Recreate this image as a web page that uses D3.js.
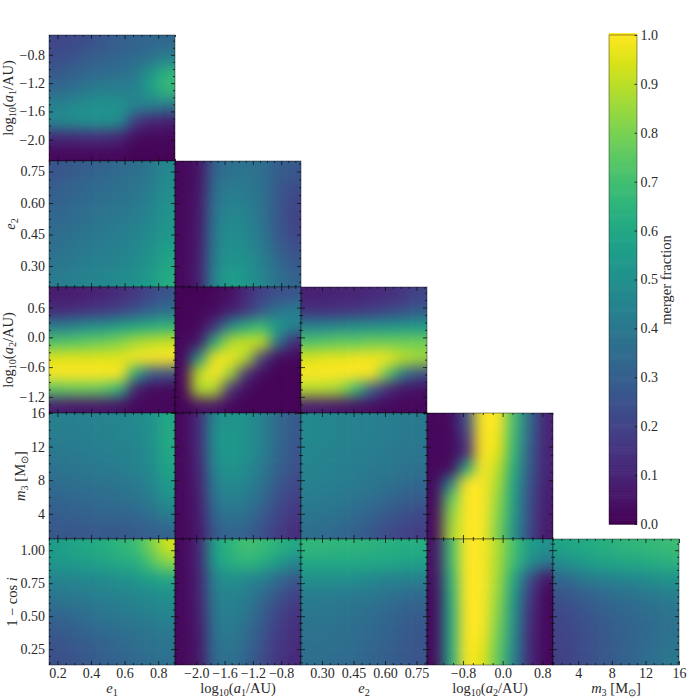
<!DOCTYPE html>
<html><head><meta charset="utf-8">
<script src="https://cdn.jsdelivr.net/npm/d3@7"></script>
<style>html,body{margin:0;padding:0;background:#fff}svg{display:block}
text{font-family:"Liberation Serif",serif;fill:#2a2a2a}</style></head>
<body><svg id="c" width="700" height="700"></svg>
<script>
// Merger fraction grids, top row first, left column first.
const a1_e1=[[.21,.22,.24,.27,.30,.31,.33,.33],[.24,.26,.29,.31,.33,.35,.38,.45],[.28,.31,.34,.35,.37,.40,.55,.66],[.34,.37,.41,.43,.43,.44,.56,.67],[.44,.47,.50,.51,.51,.44,.42,.40],[.47,.49,.51,.51,.49,.17,.10,.08],[.12,.12,.13,.13,.10,.03,.02,.02],[.02,.02,.02,.02,.02,.01,.01,.01]];
const e2_e1=[[.26,.28,.30,.32,.34,.36,.40,.47],[.29,.31,.33,.35,.36,.38,.42,.49],[.31,.33,.35,.37,.38,.40,.44,.50],[.33,.35,.37,.39,.40,.42,.46,.52],[.35,.37,.39,.41,.42,.44,.48,.53],[.37,.39,.41,.42,.44,.46,.50,.56],[.39,.41,.43,.44,.46,.48,.52,.59],[.42,.43,.45,.46,.48,.50,.55,.62]];
const e2_a1=[[.02,.05,.32,.37,.38,.36,.30,.27],[.02,.05,.35,.41,.40,.37,.28,.24],[.02,.06,.37,.44,.42,.38,.27,.21],[.02,.06,.39,.47,.44,.38,.27,.20],[.02,.07,.41,.49,.46,.40,.28,.21],[.02,.07,.42,.51,.48,.42,.31,.24],[.02,.08,.44,.53,.50,.44,.34,.28],[.02,.08,.46,.57,.52,.46,.37,.32]];
const a2_e1=[[.08,.08,.09,.10,.13,.16,.22,.26],[.12,.13,.15,.17,.20,.25,.32,.36],[.42,.45,.50,.52,.56,.60,.62,.65],[.72,.74,.76,.78,.82,.87,.90,.92],[.95,.95,.95,.95,.95,.99,1,1],[1,1,1,1,1,.60,.28,.25],[.74,.76,.76,.74,.64,.08,.03,.02],[.08,.06,.06,.06,.05,.02,.02,.02]];
const a2_a1=[[.01,.01,.02,.04,.12,.20,.24,.26],[.01,.02,.03,.08,.15,.27,.38,.42],[.01,.02,.15,.48,.62,.68,.55,.45],[.02,.06,.62,.88,.92,.92,.40,.12],[.02,.50,.97,.98,.88,.20,.03,.02],[.02,.90,1,.85,.15,.03,.01,.01],[.01,.88,.88,.15,.03,.01,.01,.01],[.01,.05,.06,.02,.01,.01,.01,.01]];
const a2_e2=[[.09,.09,.10,.10,.12,.13,.16,.20],[.14,.14,.15,.16,.18,.20,.24,.28],[.45,.46,.48,.50,.50,.52,.53,.54],[.72,.74,.76,.76,.78,.78,.78,.78],[.94,.96,.96,.98,.98,.98,.90,.86],[1,1,1,1,1,.75,.40,.25],[.88,.88,.84,.67,.30,.12,.05,.04],[.08,.07,.06,.05,.04,.02,.02,.02]];
const m3_e1=[[.43,.43,.44,.45,.45,.47,.50,.60],[.42,.42,.43,.44,.45,.46,.50,.61],[.40,.41,.42,.43,.44,.45,.49,.60],[.38,.39,.40,.41,.42,.44,.48,.58],[.35,.36,.37,.38,.39,.41,.45,.55],[.32,.33,.34,.35,.36,.38,.42,.50],[.29,.30,.31,.32,.32,.33,.36,.42],[.27,.27,.28,.28,.28,.29,.30,.32]];
const m3_a1=[[.02,.12,.48,.52,.50,.44,.34,.28],[.02,.12,.50,.54,.50,.44,.34,.27],[.02,.11,.49,.54,.50,.44,.33,.26],[.02,.10,.46,.52,.48,.41,.31,.25],[.02,.09,.42,.48,.45,.38,.28,.22],[.02,.08,.38,.44,.41,.34,.24,.19],[.02,.07,.33,.38,.36,.29,.21,.16],[.02,.06,.28,.33,.31,.25,.18,.13]];
const m3_e2=[[.47,.46,.45,.44,.43,.42,.41,.41],[.47,.46,.45,.44,.43,.42,.41,.40],[.46,.45,.44,.43,.42,.41,.40,.39],[.45,.44,.43,.42,.41,.40,.38,.37],[.44,.43,.42,.41,.39,.37,.35,.33],[.42,.41,.40,.38,.36,.33,.30,.28],[.39,.38,.37,.34,.31,.27,.24,.22],[.36,.35,.33,.31,.27,.23,.20,.18]];
const m3_a2=[[.02,.03,.25,1,1,.70,.35,.10],[.02,.02,.18,1,.98,.68,.33,.10],[.02,.02,.12,1,.96,.66,.30,.10],[.02,.03,.60,1,.90,.62,.28,.10],[.03,.45,1,1,.87,.58,.26,.09],[.03,.75,1,1,.84,.56,.24,.08],[.03,.82,1,1,.82,.55,.23,.08],[.03,.85,1,1,.80,.52,.22,.07]];
const c_e1=[[.55,.58,.60,.62,.65,.68,.80,.93],[.53,.55,.56,.58,.61,.62,.72,.82],[.45,.46,.47,.48,.50,.53,.57,.60],[.40,.41,.42,.44,.45,.46,.48,.50],[.34,.36,.38,.40,.41,.43,.45,.47],[.29,.31,.34,.36,.38,.39,.41,.42],[.26,.28,.30,.32,.34,.36,.38,.39],[.24,.26,.28,.30,.32,.34,.36,.37]];
const c_a1=[[.02,.10,.57,.65,.70,.68,.64,.60],[.02,.10,.55,.62,.66,.62,.55,.47],[.02,.09,.45,.50,.47,.44,.35,.28],[.02,.09,.42,.46,.42,.35,.27,.20],[.02,.08,.40,.44,.40,.31,.22,.16],[.02,.07,.38,.42,.37,.28,.19,.14],[.02,.06,.36,.40,.34,.26,.17,.13],[.02,.06,.35,.38,.32,.24,.16,.12]];
const c_e2=[[.66,.66,.65,.65,.64,.63,.62,.62],[.60,.60,.60,.60,.60,.59,.58,.57],[.50,.50,.50,.49,.47,.45,.44,.43],[.42,.42,.42,.41,.40,.38,.36,.34],[.40,.40,.39,.38,.36,.34,.31,.30],[.38,.38,.37,.36,.34,.32,.29,.27],[.37,.37,.36,.35,.33,.31,.28,.26],[.36,.36,.35,.34,.32,.30,.28,.26]];
const c_a2=[[.05,.68,1,1,.88,.70,.55,.50],[.05,.68,1,1,.87,.68,.50,.40],[.04,.64,1,1,.86,.60,.25,.06],[.03,.62,1,1,.84,.55,.18,.02],[.03,.60,1,1,.82,.52,.15,.02],[.03,.60,1,1,.80,.50,.13,.02],[.03,.60,1,.98,.77,.48,.12,.02],[.03,.60,1,.96,.75,.45,.12,.02]];
const c_m3=[[.58,.60,.61,.63,.65,.66,.67,.68],[.48,.53,.56,.58,.59,.60,.62,.64],[.33,.38,.42,.44,.46,.48,.50,.52],[.25,.29,.32,.35,.37,.39,.41,.43],[.22,.25,.28,.31,.33,.35,.37,.39],[.20,.23,.26,.29,.31,.33,.35,.37],[.20,.22,.25,.28,.31,.33,.36,.38],[.19,.22,.25,.28,.31,.34,.37,.40]];

// Axis definitions: domain, tick values, minor step, tick label decimals
const varE1={dom:[.15,.9],ticks:[.2,.4,.6,.8],minor:.05,dec:1};
const varA1={dom:[-2.3,-.52],ticks:[-2,-1.6,-1.2,-.8],minor:.1,dec:1};
const varE2={dom:[.2,.8],ticks:[.3,.45,.6,.75],minor:.0375,dec:2};
const varA2X={dom:[-1.525,1.015],ticks:[-.8,0,.8],minor:.2,dec:1};
const varA2Y={dom:[-1.525,1.015],ticks:[-1.2,-.6,0,.6],minor:.15,dec:1};
const varM3={dom:[1,16],ticks:[4,8,12,16],minor:1,dec:0};
const varC={dom:[.13,1.085],ticks:[.25,.5,.75,1],minor:.05,dec:2};

const panels=[
 {col:0,row:0,g:a1_e1,x:varE1,y:varA1},
 {col:0,row:1,g:e2_e1,x:varE1,y:varE2},{col:1,row:1,g:e2_a1,x:varA1,y:varE2},
 {col:0,row:2,g:a2_e1,x:varE1,y:varA2Y},{col:1,row:2,g:a2_a1,x:varA1,y:varA2Y},{col:2,row:2,g:a2_e2,x:varE2,y:varA2Y},
 {col:0,row:3,g:m3_e1,x:varE1,y:varM3},{col:1,row:3,g:m3_a1,x:varA1,y:varM3},{col:2,row:3,g:m3_e2,x:varE2,y:varM3},{col:3,row:3,g:m3_a2,x:varA2X,y:varM3},
 {col:0,row:4,g:c_e1,x:varE1,y:varC},{col:1,row:4,g:c_a1,x:varA1,y:varC},{col:2,row:4,g:c_e2,x:varE2,y:varC},{col:3,row:4,g:c_a2,x:varA2X,y:varC},{col:4,row:4,g:c_m3,x:varM3,y:varC}
];
// [text, italic, subscript]
const xLabels=[
 [["e",1],["1",0,1]],
 [["log"],["10",0,1],["("],["a",1],["1",0,1],["/AU)"]],
 [["e",1],["2",0,1]],
 [["log"],["10",0,1],["("],["a",1],["2",0,1],["/AU)"]],
 [["m",1],["3",0,1],[" [M"],["⊙",0,1],["]"]]
];
const yLabels=[
 {x:13,parts:[["log"],["10",0,1],["("],["a",1],["1",0,1],["/AU)"]]},
 {x:15,parts:[["e",1],["2",0,1]]},
 {x:13,parts:[["log"],["10",0,1],["("],["a",1],["2",0,1],["/AU)"]]},
 {x:25,parts:[["m",1],["3",0,1],[" [M"],["⊙",0,1],["]"]]},
 {x:17,parts:[["1 − cos "],["i",1]]}
];
const cbarTicks=[0,.1,.2,.3,.4,.5,.6,.7,.8,.9,1];

const svg=d3.select("#c");
const X0=49,Y0=35,S=126;
const LABEL=14.5,TICK=14;
const color=d3.scaleSequential(d3.interpolateViridis).domain([0,1]);
svg.append("defs").append("filter").attr("id","smooth")
  .attr("x","-10%").attr("y","-10%").attr("width","120%").attr("height","120%")
  .attr("color-interpolation-filters","sRGB")
  .append("feGaussianBlur").attr("stdDeviation",7);

function label(sel,parts,size){
  parts.forEach((p,i)=>{
    const prevSub=i>0&&parts[i-1][2];
    const t=sel.append("tspan").text(p[0]).style("white-space","pre");
    if(p[1])t.attr("font-style","italic");
    if(p[2]){t.attr("font-size",size*.7).attr("dy",3);}
    else if(prevSub){t.attr("dy",-3);}
  });
}
function majorMinor(v){
  const out=[];const k0=Math.ceil(v.dom[0]/v.minor-1e-6),k1=Math.floor(v.dom[1]/v.minor+1e-6);
  for(let k=k0;k<=k1;k++)out.push(k*v.minor);
  return out.filter(m=>!v.ticks.some(t=>Math.abs(t-m)<1e-6));
}
function tickStyle(g){
  g.select(".domain").remove();
  g.selectAll("line").attr("stroke","#111").attr("stroke-width",.8);
}

panels.forEach((p,idx)=>{
  const px=X0+p.col*S,py=Y0+p.row*S;
  const g=svg.append("g").attr("transform",`translate(${px},${py})`);
  const n=p.g.length;
  const cx=d3.scaleLinear().domain([0,n]).range([0,S]);
  const cy=d3.scaleLinear().domain([0,n]).range([0,S]);
  const id="clip"+idx;
  svg.select("defs").append("clipPath").attr("id",id).append("rect").attr("width",S).attr("height",S);
  const cells=[];
  // edge cells are repeated outward so the smoothing does not fade at the frame
  for(let r=-4;r<n+4;r++)for(let c=-4;c<n+4;c++){
    cells.push({r,c,v:p.g[Math.max(0,Math.min(n-1,r))][Math.max(0,Math.min(n-1,c))]});
  }
  g.append("g").attr("clip-path",`url(#${id})`).append("g").attr("filter","url(#smooth)")
    .selectAll("rect").data(cells).join("rect")
    .attr("x",d=>cx(d.c)).attr("y",d=>cy(d.r))
    .attr("width",cx(1)-cx(0)+.6).attr("height",cy(1)-cy(0)+.6)
    .attr("fill",d=>color(d.v));

  const xs=d3.scaleLinear().domain(p.x.dom).range([0,S]);
  const ys=d3.scaleLinear().domain(p.y.dom).range([S,0]);
  const fx=d3.format("."+p.x.dec+"f"),fy=d3.format("."+p.y.dec+"f");
  const isB=p.row===4,isL=p.col===0;
  const mk=(axis,scale,size,vals,fmt,tx,pad)=>{
    const a=axis(scale).tickValues(vals).tickSize(size).tickSizeOuter(0).tickPadding(pad||4).tickFormat(fmt||"");
    const ag=g.append("g").attr("transform",tx||null).call(a).call(tickStyle);
    ag.attr("font-family",null).attr("font-size",TICK);
    return ag;
  };
  const none=()=>"";
  mk(d3.axisBottom,xs,-2,majorMinor(p.x),none,`translate(0,${S})`);
  mk(d3.axisTop,xs,-2,majorMinor(p.x),none);
  mk(d3.axisLeft,ys,-2,majorMinor(p.y),none);
  mk(d3.axisRight,ys,-2,majorMinor(p.y),none,`translate(${S},0)`);
  mk(d3.axisBottom,xs,-4,p.x.ticks,isB?fx:none,`translate(0,${S})`,3);
  mk(d3.axisTop,xs,-4,p.x.ticks,none);
  mk(d3.axisLeft,ys,-4,p.y.ticks,isL?fy:none);
  mk(d3.axisRight,ys,-4,p.y.ticks,none,`translate(${S},0)`);
  g.append("rect").attr("width",S).attr("height",S).attr("fill","none")
    .attr("stroke","#000").attr("stroke-opacity",.4).attr("stroke-width",1);
});

xLabels.forEach((parts,i)=>{
  const t=svg.append("text").attr("x",X0+S*i+S/2).attr("y",693).attr("text-anchor","middle").attr("font-size",LABEL);
  label(t,parts,LABEL);
});
yLabels.forEach((d,i)=>{
  const cy=Y0+S*i+S/2;
  const t=svg.append("text").attr("transform",`translate(${d.x},${cy}) rotate(-90)`).attr("text-anchor","middle").attr("font-size",LABEL);
  label(t,d.parts,LABEL);
});

// Colour bar
const cbX=609,cbW=28,cbT=35,cbB=524;
const cbY=d3.scaleLinear().domain([0,1]).range([cbB,cbT]);
const levels=d3.range(0,256).map(i=>i/255);
const cb=svg.append("g");
cb.selectAll("rect").data(levels).join("rect")
  .attr("x",cbX).attr("width",cbW)
  .attr("y",d=>cbY(d)-(cbB-cbT)/255).attr("height",(cbB-cbT)/255+.6)
  .attr("fill",d=>color(d));
const cbAxis=svg.append("g").attr("transform",`translate(${cbX+cbW},0)`)
  .call(d3.axisRight(cbY).tickValues(cbarTicks).tickSize(-2.5).tickPadding(3.5).tickFormat(d3.format(".1f")))
  .call(tickStyle);
cbAxis.attr("font-family",null).attr("font-size",TICK);
cb.append("rect").attr("x",cbX).attr("y",cbT).attr("width",cbW).attr("height",cbB-cbT)
  .attr("fill","none").attr("stroke","#000").attr("stroke-opacity",.4);
svg.append("text").attr("transform","translate(671,280) rotate(-90)").attr("text-anchor","middle")
  .attr("font-size",LABEL).text("merger fraction");
</script></body></html>
